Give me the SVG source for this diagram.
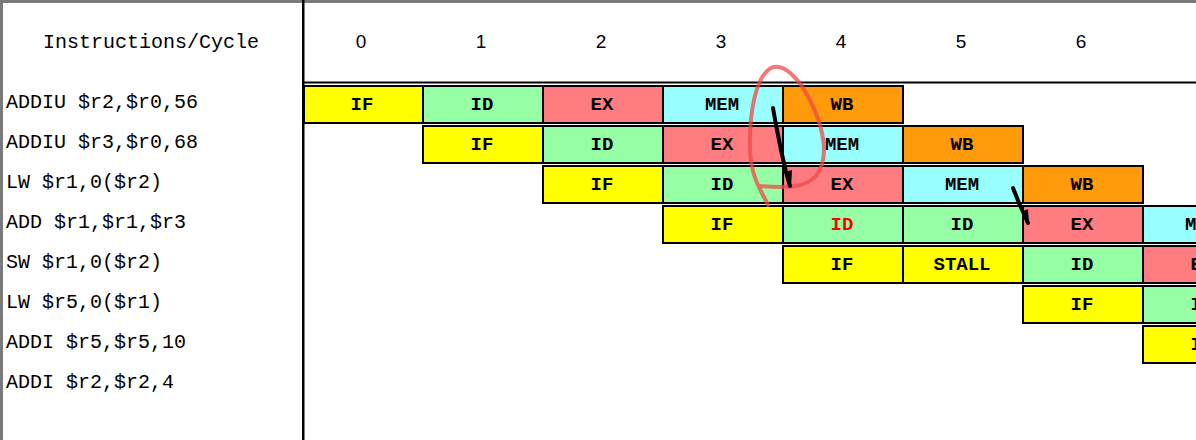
<svg xmlns="http://www.w3.org/2000/svg" width="1196" height="440" viewBox="0 0 1196 440">
<style>
.lbl{font-family:"Liberation Mono","DejaVu Sans Mono",monospace;font-size:20px;fill:#000}
.hdr{font-family:"Liberation Sans","DejaVu Sans",sans-serif;font-size:19px;fill:#000;text-anchor:middle}
.st{font-family:"Liberation Mono","DejaVu Sans Mono",monospace;font-size:19px;font-weight:bold;fill:#000;text-anchor:middle}
.box{stroke:#000;stroke-width:2}
.IF{fill:#FFFF00}.ID{fill:#96FFA6}.EX{fill:#FF7C80}.MEM{fill:#99FFFF}.WB{fill:#FF9A0A}
</style>
<rect x="0" y="0" width="1196" height="440" fill="#fff"/>
<g id="frame">
<rect x="0" y="0" width="1196" height="3" fill="#7a7a7a"/>
<rect x="0" y="0" width="3" height="440" fill="#7a7a7a"/>
<rect x="302" y="0" width="2.5" height="440" fill="#000"/>
<rect x="303" y="81.5" width="893" height="2" fill="#000"/>
</g>
<g id="headers">
<text class="lbl" x="151" y="48" text-anchor="middle">Instructions/Cycle</text>
<text class="hdr" x="361" y="48">0</text>
<text class="hdr" x="481" y="48">1</text>
<text class="hdr" x="601" y="48">2</text>
<text class="hdr" x="721" y="48">3</text>
<text class="hdr" x="841" y="48">4</text>
<text class="hdr" x="961" y="48">5</text>
<text class="hdr" x="1081" y="48">6</text>
</g>
<g id="instructions">
<text class="lbl" x="6" y="108">ADDIU $r2,$r0,56</text>
<text class="lbl" x="6" y="148">ADDIU $r3,$r0,68</text>
<text class="lbl" x="6" y="188">LW $r1,0($r2)</text>
<text class="lbl" x="6" y="228">ADD $r1,$r1,$r3</text>
<text class="lbl" x="6" y="268">SW $r1,0($r2)</text>
<text class="lbl" x="6" y="308">LW $r5,0($r1)</text>
<text class="lbl" x="6" y="348">ADDI $r5,$r5,10</text>
<text class="lbl" x="6" y="388">ADDI $r2,$r2,4</text>
</g>
<g id="row0">
<rect class="box IF" x="304" y="86" width="119" height="37"/><text class="st" x="362" y="110">IF</text>
<rect class="box ID" x="423" y="86" width="120" height="37"/><text class="st" x="482" y="110">ID</text>
<rect class="box EX" x="543" y="86" width="120" height="37"/><text class="st" x="602" y="110">EX</text>
<rect class="box MEM" x="663" y="86" width="120" height="37"/><text class="st" x="722" y="110">MEM</text>
<rect class="box WB" x="783" y="86" width="120" height="37"/><text class="st" x="842" y="110">WB</text>
</g>
<g id="row1">
<rect class="box IF" x="423" y="126" width="120" height="37"/><text class="st" x="482" y="150">IF</text>
<rect class="box ID" x="543" y="126" width="120" height="37"/><text class="st" x="602" y="150">ID</text>
<rect class="box EX" x="663" y="126" width="120" height="37"/><text class="st" x="722" y="150">EX</text>
<rect class="box MEM" x="783" y="126" width="120" height="37"/><text class="st" x="842" y="150">MEM</text>
<rect class="box WB" x="903" y="126" width="120" height="37"/><text class="st" x="962" y="150">WB</text>
</g>
<g id="row2">
<rect class="box IF" x="543" y="166" width="120" height="37"/><text class="st" x="602" y="190">IF</text>
<rect class="box ID" x="663" y="166" width="120" height="37"/><text class="st" x="722" y="190">ID</text>
<rect class="box EX" x="783" y="166" width="120" height="37"/><text class="st" x="842" y="190">EX</text>
<rect class="box MEM" x="903" y="166" width="120" height="37"/><text class="st" x="962" y="190">MEM</text>
<rect class="box WB" x="1023" y="166" width="120" height="37"/><text class="st" x="1082" y="190">WB</text>
</g>
<g id="row3">
<rect class="box IF" x="663" y="206" width="120" height="37"/><text class="st" x="722" y="230">IF</text>
<rect class="box ID" x="783" y="206" width="120" height="37"/><text class="st" x="842" y="230" style="fill:#ff0000">ID</text>
<rect class="box ID" x="903" y="206" width="120" height="37"/><text class="st" x="962" y="230">ID</text>
<rect class="box EX" x="1023" y="206" width="120" height="37"/><text class="st" x="1082" y="230">EX</text>
<rect class="box MEM" x="1143" y="206" width="120" height="37"/><text class="st" x="1202" y="230">MEM</text>
</g>
<g id="row4">
<rect class="box IF" x="783" y="246" width="120" height="37"/><text class="st" x="842" y="270">IF</text>
<rect class="box IF" x="903" y="246" width="120" height="37"/><text class="st" x="962" y="270">STALL</text>
<rect class="box ID" x="1023" y="246" width="120" height="37"/><text class="st" x="1082" y="270">ID</text>
<rect class="box EX" x="1143" y="246" width="120" height="37"/><text class="st" x="1202" y="270">EX</text>
</g>
<g id="row5">
<rect class="box IF" x="1023" y="286" width="120" height="37"/><text class="st" x="1082" y="310">IF</text>
<rect class="box ID" x="1143" y="286" width="120" height="37"/><text class="st" x="1202" y="310">ID</text>
</g>
<g id="row6">
<rect class="box IF" x="1143" y="326" width="120" height="37"/><text class="st" x="1202" y="350">IF</text>
</g>
<g id="connectors">
<path d="M768 205 C762 192 751 178 750 150 C749 112 756 76 771 68 C784 62 800 80 810 100 C824 128 830 158 816 176 C805 188 788 188 760 186" fill="none" stroke="#f04848" stroke-opacity="0.75" stroke-width="4" stroke-linecap="round" stroke-linejoin="round"/>
<path d="M773 108 L776 125 L781 150 L786 172 L790 186" fill="none" stroke="#000" stroke-width="4" stroke-linecap="round"/>
<path d="M785 172 L791 187 L792 170 Z" fill="#000"/>
<path d="M1013 188 L1019 203 L1024 214 L1028 223" fill="none" stroke="#000" stroke-width="4" stroke-linecap="round"/>
<path d="M1022 212 L1029 224 L1028 209 Z" fill="#000"/>
</g>
</svg>
